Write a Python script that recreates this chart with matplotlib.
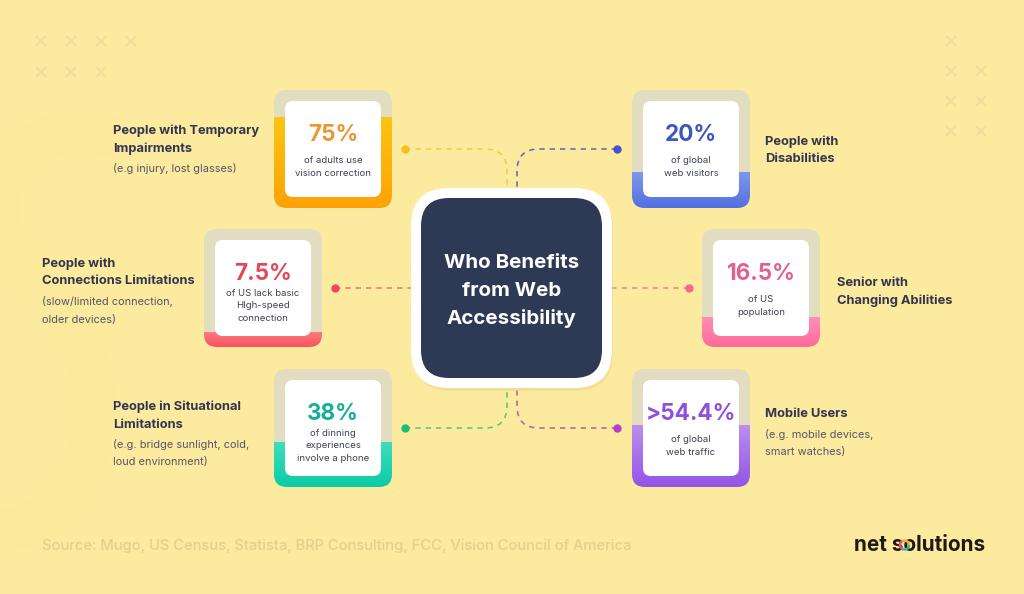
import matplotlib
matplotlib.use("Agg")
import matplotlib.pyplot as plt
import numpy as np
from matplotlib.patches import FancyBboxPatch, PathPatch, Arc
from matplotlib.path import Path
from matplotlib.colors import LinearSegmentedColormap

plt.rcParams["font.family"] = ["Inter", "DejaVu Sans"]

title_lines = ["Who Benefits", "from Web", "Accessibility"]
values = ["75%", "20%", "7.5%", "16.5%", "38%", ">54.4%"]
fill_share = [0.77, 0.30, 0.12, 0.25, 0.38, 0.52]
captions = [
    "of adults use\nvision correction",
    "of global\nweb visitors",
    "of US lack basic\nHIgh-speed\nconnection",
    "of US\npopulation",
    "of dinning\nexperiences\ninvolve a phone",
    "of global\nweb traffic",
]
heads = [
    "People with Temporary\nImpairments",
    "People with\nDisabilities",
    "People with\nConnections Limitations",
    "Senior with\nChanging Abilities",
    "People in Situational\nLimitations",
    "Mobile Users",
]
notes = [
    "(e.g injury, lost glasses)",
    "",
    "(slow/limited connection,\nolder devices)",
    "",
    "(e.g. bridge sunlight, cold,\nloud environment)",
    "(e.g. mobile devices,\nsmart watches)",
]
source = "Source: Mugo, US Census, Statista, BRP Consulting, FCC, Vision Council of America"
brand = "net solutions"

card_left = [274, 632, 204, 702, 274, 632]
card_top = [90, 90, 229, 229, 369, 369]
head_x = [113, 765, 42, 837, 113, 765]
head_y = [130, 141, 263, 282, 406, 413]
top_colors = ["#fdc413", "#7f97ee", "#fb7a80", "#fe8fb4", "#3fdcbc", "#bb8df0"]
bot_colors = ["#fda205", "#5370e0", "#f9525f", "#fd6b9b", "#0ccba8", "#9355e6"]
value_colors = ["#e8982c", "#3f56bd", "#e2485a", "#e2628c", "#12b096", "#8f50dd"]
dot_colors = ["#f3c21c", "#4a50cf", "#ef4a56", "#f4688f", "#16c172", "#b93dc9"]
line_colors = ["#efcf4a", "#6f6cc0", "#ee7a76", "#f18a8c", "#5ecb78", "#b26aa8"]

BG = "#fcea9f"
INK = "#33364f"
NOTE = "#55556a"
NAVY = "#2e3a55"
S = 118
INSET = 11

fig = plt.figure(figsize=(10.24, 5.94), dpi=100, facecolor=BG)
ax = fig.add_axes([0, 0, 1, 1])
ax.set_xlim(0, 1024)
ax.set_ylim(594, 0)
ax.axis("off")


def rbox(x0, y0, x1, y1, r, **kw):
    p = FancyBboxPatch((x0, y0), x1 - x0, y1 - y0,
                       boxstyle=f"round,pad=0,rounding_size={r}", **kw)
    ax.add_patch(p)
    return p


# faint background S
ss = Path([(105, 135), (30, 115), (-45, 190), (25, 270), (70, 320), (115, 375), (85, 460), (60, 530), (0, 540), (-30, 520)],
          [Path.MOVETO, Path.CURVE4, Path.CURVE4, Path.CURVE4, Path.CURVE4, Path.CURVE4, Path.CURVE4, Path.CURVE4, Path.CURVE4, Path.CURVE4])
ax.add_patch(PathPatch(ss, fill=False, ec="#fbe99c", lw=30, capstyle="round"))

# x marks
xs_l = [41, 71, 101, 131, 41, 71, 101]
ys_l = [41, 41, 41, 41, 72, 72, 72]
xs_r = [951, 951, 981, 951, 981, 951, 981]
ys_r = [41, 71, 71, 101, 101, 131, 131]
ax.plot(xs_l + xs_r, ys_l + ys_r, ls="", marker="x", ms=7.5, mew=1.7, color="#efdf9c", zorder=1)


def connector(i):
    c = line_colors[i]
    kw = dict(fill=False, ec=c, lw=1.2, ls=(0, (3.2, 3.0)), zorder=2)
    up = card_top[i] < 150
    if i in (2, 3):
        dx = 335 if i == 2 else 689
        ex = 411 if i == 2 else 612
        y = 288
        ax.plot([dx, ex], [y, y], color=c, lw=1.2, ls=(0, (3.2, 3.0)), zorder=2)
        ax.plot([dx], [y], "o", ms=5, color=dot_colors[i], zorder=3)
        return
    left = i in (0, 4)
    dx = 405 if left else 617
    vx = 507 if left else 517
    y = 149 if up else 428
    ey = 188 if up else 388
    sgn = 1 if left else -1
    vs = 1 if up else -1
    r = 22
    pth = Path([(dx, y), (vx - sgn * r, y), (vx, y), (vx, y + vs * r), (vx, ey)],
               [Path.MOVETO, Path.LINETO, Path.CURVE3, Path.CURVE3, Path.LINETO])
    ax.add_patch(PathPatch(pth, **kw))
    ax.plot([dx], [y], "o", ms=5, color=dot_colors[i], zorder=3)


for i in range(6):
    connector(i)

# center
rbox(413, 190, 613, 391, 38, fc="#e9d38c", ec="none", alpha=0.5, zorder=3)
rbox(411, 188, 612, 388, 38, fc="#ffffff", ec="none", zorder=4)
rbox(421, 198, 602, 378, 28, fc=NAVY, ec="none", zorder=5)
for line, y in zip(title_lines, [263.5, 291.5, 319]):
    ax.text(511.5, y, line, color="white", fontsize=14.8, fontweight="bold",
            ha="center", va="center", zorder=6)

# cards
for i in range(6):
    x, y = card_left[i], card_top[i]
    rbox(x, y, x + S, y + S, 13, fc="#e2dcc0", ec="none", zorder=3)
    cmap = LinearSegmentedColormap.from_list("c", [top_colors[i], bot_colors[i]])
    ftop = y + S * (1 - fill_share[i])
    grad = np.linspace(0, 1, 64)[:, None]
    im = ax.imshow(grad, extent=(x, x + S, y + S, ftop), cmap=cmap, aspect="auto", zorder=3.2)
    clip = rbox(x, y, x + S, y + S, 13, fc="none", ec="none", zorder=3)
    im.set_clip_path(clip)
    rbox(x + INSET, y + INSET, x + S - INSET, y + S - INSET, 8, fc="#ffffff", ec="none", zorder=4)
    cx = x + S / 2
    ax.text(cx, y + 45, values[i], color=value_colors[i], fontsize=16.2, fontweight="bold",
            ha="center", va="center", zorder=5)
    nl = captions[i].count("\n") + 1
    cy = y + 77
    for j, t in enumerate(captions[i].split("\n")):
        ax.text(cx, cy + 12.5 * (j - (nl - 1) / 2), t, color="#3e4055", fontsize=6.9,
                ha="center", va="center", zorder=5)
    hl = heads[i].split("\n")
    for j, t in enumerate(hl):
        ax.text(head_x[i], head_y[i] + 1 + 17.5 * j, t, color=INK, fontsize=9.3, fontweight="bold",
                ha="left", va="center", zorder=5)
    if notes[i]:
        ny = head_y[i] + 1 + 17.5 * (len(hl) - 1) + 20
        for j, t in enumerate(notes[i].split("\n")):
            ax.text(head_x[i], ny + 18 * j, t, color=NOTE, fontsize=7.9, ha="left", va="center", zorder=5)

ax.text(42, 546, source, color="#e2d08c", fontsize=10.6, fontweight="medium", ha="left", va="center")
ax.text(854, 545, brand, color="#1d1a16", fontsize=14.9, fontweight="bold", ha="left", va="center", zorder=5)
for a, b, c in [(0, 120, "#2fb7a6"), (120, 240, "#e2557a"), (240, 360, "#f0b429")]:
    ax.add_patch(Arc((904.5, 545), 9, 9, theta1=a, theta2=b, color=c, lw=1.8, zorder=6))

fig.savefig("out.png", dpi=100, facecolor=BG)
